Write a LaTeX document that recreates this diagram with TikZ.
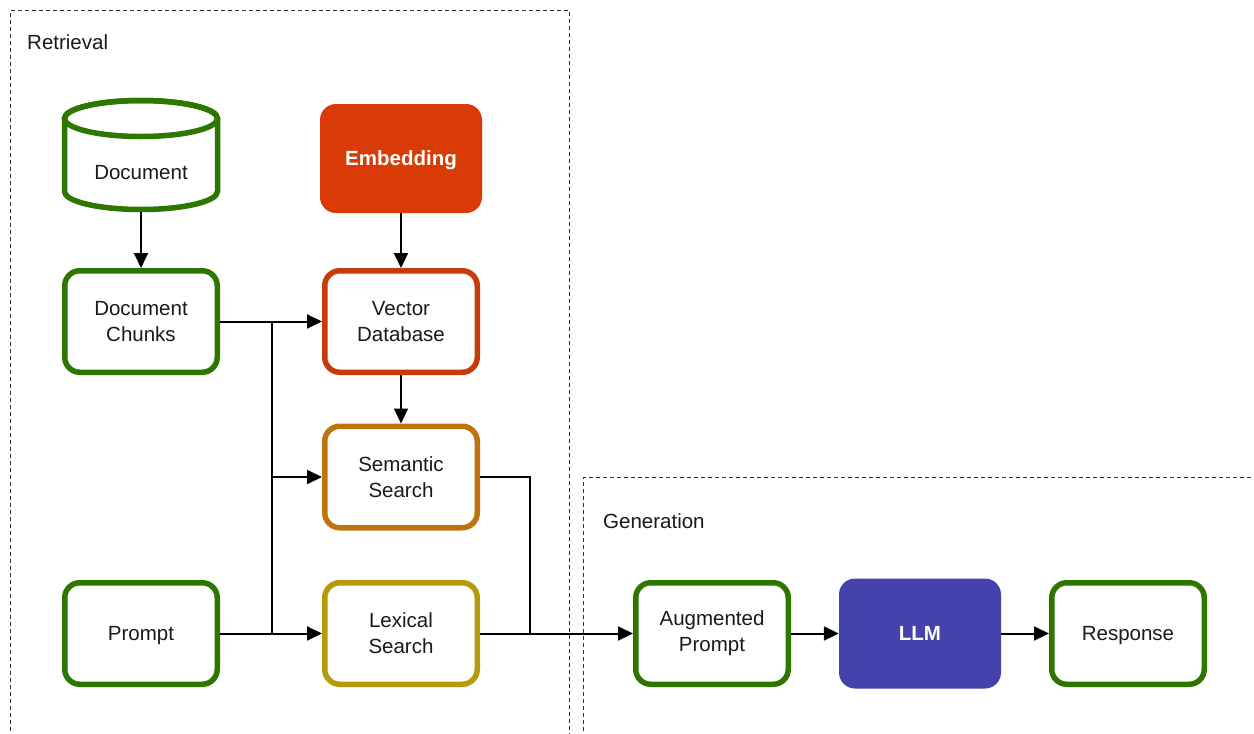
\documentclass[tikz,border=0pt]{standalone}
\usepackage{fontspec}
\setmainfont{Liberation Sans}
\usetikzlibrary{arrows.meta}
\definecolor{grn}{HTML}{2D7600}
\definecolor{embfill}{HTML}{DA3A06}
\definecolor{vdbline}{HTML}{C93A0A}
\definecolor{semline}{HTML}{BF730E}
\definecolor{lexline}{HTML}{B59A0C}
\definecolor{llmfill}{HTML}{4343AB}
\definecolor{txt}{HTML}{1A1A1A}
\definecolor{dash}{HTML}{333333}
\begin{document}
\begin{tikzpicture}[x=1pt,y=-1pt,
  lbl/.style={font=\fontsize{20.5}{26}\selectfont, text=txt, align=center},
  oneline/.style={text height=16pt, text depth=1.3pt},
  box/.style={lbl, draw=grn, line width=5.5pt, rounded corners=15pt, fill=white,
    minimum width=152.5pt, minimum height=101.5pt, inner sep=0pt},
  filledbox/.style={lbl, fill=#1, draw=none, rounded corners=16pt, text=white,
    font=\fontsize{20.5}{26}\selectfont\bfseries, minimum width=162pt, minimum height=109pt, inner sep=0pt},
  conn/.style={draw=black, line width=2pt},
  arr/.style={conn, -{Triangle[length=15pt,width=14pt]}},
  group/.style={draw=dash, line width=1.5pt, dash pattern=on 4pt off 3pt},
  grouplabel/.style={font=\fontsize{20.5}{26}\selectfont, text=txt, anchor=west, inner sep=0pt}
]
\useasboundingbox (0,0) rectangle (1254,734);
\clip (0,0) rectangle (1254,734);
\fill[white] (0,0) rectangle (1254,734);

% groups
\draw[group] (10.5,780) -- (10.5,10.5) -- (569.5,10.5) -- (569.5,780);
\draw[group] (583.5,780) -- (583.5,477.5) -- (1290,477.5);
\node[grouplabel] (rlabel) at (27,42) {Retrieval};
\node[grouplabel] (glabel) at (603,521) {Generation};

% cylinder
\draw[grn, line width=5.5pt, fill=white] (64.5,118.5) -- (64.5,191.5)
  arc[start angle=180, end angle=0, x radius=76.5, y radius=18] -- (217.5,118.5)
  arc[start angle=0, end angle=-180, x radius=76.5, y radius=18] -- cycle;
\draw[grn, line width=5.5pt] (141,118.5) ellipse [x radius=76.5, y radius=18];
\node[lbl, oneline, minimum width=158pt, minimum height=80pt, inner sep=0pt, outer sep=0pt] (doc) at (141,172) {Document};

% nodes
\node[box] (chunks) at (141,321.5) {Document\\Chunks};
\node[filledbox=embfill, oneline] (emb) at (401,158.5) {Embedding};
\node[box, draw=vdbline] (vdb) at (401,321.5) {Vector\\Database};
\node[box, draw=semline] (sem) at (401,477) {Semantic\\Search};
\node[box, draw=lexline] (lex) at (401,633.5) {Lexical\\Search};
\node[box, oneline] (prompt) at (141,633.5) {Prompt};
\node[box] (aug) at (712,633.5) {Augmented\\Prompt};
\node[filledbox=llmfill, oneline, minimum height=110pt] (llm) at (920,633.5) {LLM};
\node[box, oneline] (resp) at (1128,633.5) {Response};

% junctions
\coordinate (j1) at (272,321.5);
\coordinate (j2) at (272,633.5);
\coordinate (j3) at (530,633.5);

% connectors
\draw[arr] (doc.south) -- (chunks.north);
\draw[arr] (emb.south) -- (vdb.north);
\draw[arr] (vdb.south) -- (sem.north);
\draw[arr] (chunks.east) -- (vdb.west);
\draw[conn] (j1) -- (j2);
\draw[arr] (j1 |- sem.west) -- (sem.west);
\draw[arr] (prompt.east) -- (lex.west);
\draw[conn] (sem.east) -| (j3);
\draw[arr] (lex.east) -- (aug.west);
\draw[arr] (aug.east) -- (llm.west);
\draw[arr] (llm.east) -- (resp.west);
\end{tikzpicture}
\end{document}
